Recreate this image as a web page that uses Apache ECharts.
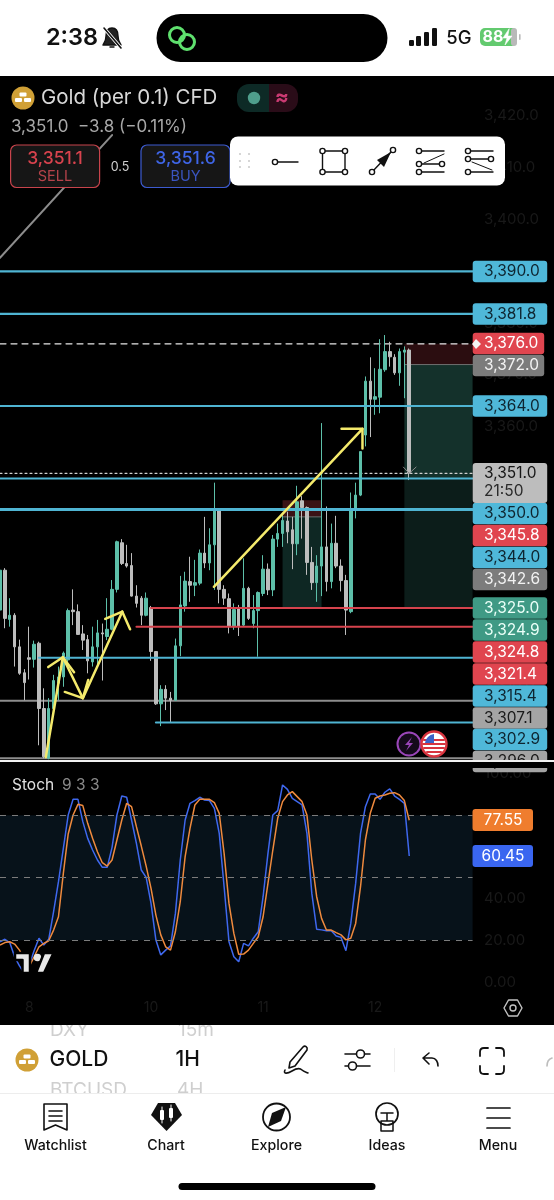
<!DOCTYPE html>
<html>
<head>
<meta charset="utf-8">
<title>Gold (per 0.1) CFD</title>
<style>
html,body{margin:0;padding:0;background:#fff}
#chart{width:554px;height:1200px}
</style>
<script src="https://cdn.jsdelivr.net/npm/echarts@6/dist/echarts.min.js"></script>
</head>
<body>
<div id="chart"></div>
<script>
// candles
var opens = [3324.6,3332.3,3322.8,3323.6,3317.5,3312.5,3315.4,3315.1,3318.2,3305.6,3296.0,3305.6,3310.5,3311.7,3315.0,3324.6,3324.3,3320.0,3318.9,3314.6,3317.5,3320.2,3319.5,3320.9,3328.6,3337.6,3333.6,3333.2,3327.3,3326.9,3323.6,3325.1,3316.6,3306.5,3309.3,3307.6,3307.2,3317.7,3325.4,3330.1,3329.4,3329.8,3335.6,3333.7,3337.2,3343.8,3328.6,3326.8,3321.4,3324.9,3321.7,3328.8,3322.0,3324.5,3327.8,3332.5,3328.5,3338.3,3339.4,3341.8,3340.1,3337.4,3345.7,3344.4,3333.8,3329.9,3333.1,3336.8,3330.1,3337.5,3333.1,3330.3,3324.3,3343.9,3346.8,3358.4,3368.8,3365.3,3365.7,3371.0,3374.5,3373.4,3370.4,3374.4,3374.8];
var closes = [3332.3,3323.0,3323.6,3317.5,3312.4,3310.6,3315.1,3318.0,3305.6,3296.3,3305.6,3311.0,3311.7,3316.3,3324.5,3324.3,3319.9,3318.8,3314.8,3317.5,3320.2,3320.0,3320.9,3328.6,3337.8,3333.6,3333.1,3327.3,3325.9,3323.6,3326.9,3316.6,3306.5,3309.3,3307.6,3307.2,3317.7,3325.6,3330.2,3329.4,3329.9,3335.6,3333.7,3337.2,3343.8,3328.6,3326.9,3321.5,3324.7,3321.5,3328.8,3323.0,3324.5,3328.0,3332.5,3328.5,3338.3,3339.4,3341.9,3339.7,3337.4,3345.5,3344.4,3333.8,3329.9,3333.1,3336.8,3330.1,3337.5,3333.1,3330.3,3324.6,3343.9,3346.8,3355.2,3368.8,3365.3,3365.8,3371.1,3374.5,3373.5,3370.4,3374.5,3374.8,3351.0];
var lows = [3323.3,3321.1,3321.4,3313.7,3312.1,3307.2,3311.2,3313.5,3298.5,3296.0,3295.8,3305.3,3307.2,3309.8,3314.6,3321.7,3319.8,3316.9,3312.4,3313.7,3313.7,3311.0,3318.8,3320.7,3328.0,3333.3,3332.8,3327.2,3325.1,3321.7,3323.4,3314.8,3306.3,3302.2,3305.3,3303.0,3307.1,3315.7,3324.3,3326.2,3327.3,3329.4,3332.7,3332.3,3328.5,3325.9,3325.6,3320.1,3320.8,3319.6,3321.4,3322.7,3321.1,3315.6,3327.3,3327.5,3327.3,3336.8,3336.8,3337.5,3332.5,3335.2,3338.4,3331.4,3328.5,3326.2,3327.3,3328.2,3328.8,3332.7,3328.2,3319.8,3324.0,3342.3,3346.6,3356.2,3358.0,3362.3,3362.6,3370.6,3371.6,3370.0,3367.9,3365.5,3349.7];
var highs = [3336.8,3332.7,3326.9,3324.0,3318.9,3313.2,3321.4,3318.7,3318.5,3309.5,3307.6,3312.1,3313.7,3316.6,3324.9,3328.6,3325.7,3321.7,3319.8,3321.4,3322.7,3322.0,3326.9,3330.4,3338.0,3338.3,3337.2,3335.6,3329.4,3327.3,3328.0,3325.4,3316.7,3310.1,3310.1,3308.8,3319.1,3331.2,3332.0,3334.9,3334.3,3336.3,3342.6,3340.4,3349.2,3343.9,3329.4,3327.8,3325.9,3325.6,3334.6,3329.1,3327.5,3328.2,3335.2,3333.6,3339.1,3341.3,3343.4,3343.6,3342.6,3348.6,3346.6,3344.6,3336.8,3335.2,3360.7,3344.6,3341.3,3342.8,3334.4,3331.4,3347.3,3349.2,3355.3,3369.7,3373.4,3371.3,3376.9,3377.7,3376.4,3374.0,3375.1,3375.5,3375.1];

// stochastic
var stochK = [19.3,20.5,18.9,12.1,7.7,4.2,8.2,15.0,21.0,17.7,20.5,33.7,48.1,64.1,80.1,87.6,87.6,76.9,68.9,63.3,58.5,55.0,55.0,64.6,80.1,89.2,88.6,77.7,66.5,53.7,50.2,37.7,20.1,13.0,15.3,17.3,32.9,58.5,77.7,85.7,87.0,88.6,87.3,87.0,83.3,71.3,45.7,19.3,12.1,9.7,18.5,17.3,21.0,24.1,40.9,61.7,80.1,82.2,94.5,92.4,88.1,86.5,84.9,71.3,42.5,25.3,25.0,24.6,24.6,22.1,21.4,15.0,28.1,47.3,71.3,84.1,90.2,90.2,87.6,91.0,92.6,89.2,87.6,85.7,60.45];
var stochD = [17.7,18.9,19.3,18.2,15.3,10.5,7.4,12.1,16.9,18.5,19.8,24.9,31.3,52.1,71.0,80.1,85.2,84.6,76.1,68.9,62.5,57.2,55.6,58.5,68.1,77.7,85.7,84.1,74.5,65.2,55.6,44.9,32.1,22.6,16.9,15.3,24.1,38.5,60.1,73.7,84.9,87.6,87.6,87.6,86.0,80.9,61.7,37.7,23.3,13.3,13.4,15.3,18.5,21.7,31.3,47.3,63.3,78.5,86.5,89.7,91.3,88.9,86.5,80.1,58.5,40.9,30.5,24.9,24.9,23.7,22.6,20.2,21.0,28.1,45.7,68.1,80.9,88.1,89.2,89.7,90.5,90.8,89.7,87.0,77.55];

// axes
var priceTicks = [3420,3410,3400,3390,3380,3370,3360,3350,3340,3330,3320,3310,3300];
var stochTicks = [0,20,40,60,80,100];
var dayLabels = ['8','10','11','12'];
var dayBars = [6,31,54,77];
var slotCount = 98;

// horizontal levels drawn on the chart
var cyanPrices = [3390,3381.8,3364,3350,3344,3315.4,3302.9];
var cyanStarts = [0,0,0,0,0,8,32];
var redPrices = [3325,3321.4];
var redStarts = [31,28];
var grayPrices = [3307.1,3296];
var lastPrice = 3351;
var stopPrice = 3376;

// hand drawn arrows, [bar, price]
var arrowUp1 = [[9.4,3296.2],[12.9,3315.5]];
var arrowUp1Head = [[9.9,3313.6],[12.9,3315.5],[15.2,3312.6]];
var arrowDown = [[12.9,3315.5],[17,3307.6]];
var arrowDownHead = [[13.3,3308.8],[17,3307.6],[18.1,3311.1]];
var arrowUp2 = [[17,3307.6],[25.1,3324.3]];
var arrowUp2Head = [[21.6,3322.9],[25.1,3324.3],[26.7,3320.9]];
var arrowUp3 = [[43.9,3329.1],[74.4,3359.6]];
var arrowUp3Head = [[70.1,3359.6],[74.4,3359.6],[74.4,3355.8]];
var trendLine = [[0,3392.6],[23,3416.3]];
var lastArrow = [[82.8,3352.2],[84,3351],[85.4,3352.2]];

// price tags on the right
var tagLabels = ['3,390.0','3,381.8','3,376.0','3,372.0','3,364.0','3,350.0','3,345.8','3,344.0','3,342.6','3,325.0','3,324.9','3,324.8','3,321.4','3,315.4','3,307.1','3,302.9','3,296.0'];
var tagKinds = ['c','c','r','g','c','c','r','c','g','t','t','r','r','c','l','c','l'];

var FONT = 'Inter';
var categories = [], candles = [];
for (var i = 0; i < slotCount; i++) {
	var at = dayBars.indexOf(i);
	categories.push(at >= 0 ? dayLabels[at] : 'b' + i);
}
for (var i = 0; i < opens.length; i++) {
	candles.push([opens[i], closes[i], lows[i], highs[i]]);
}

function money(v){
	return v.toFixed(1).replace(/\B(?=(\d{3})(?!\d))/, ',');
}
function drawing(points, color, width, z, dash){
	return {
		type: 'line', xAxisIndex: 2, yAxisIndex: 0, data: points, silent: true,
		symbol: 'none', animation: false, z: z || 5,
		lineStyle: {color: color, width: width, type: dash || 'solid', cap: 'round', join: 'round'}
	};
}
function box(x1, x2, top, bottom, color){
	return [{coord: [x1, top], itemStyle: {color: color}}, {coord: [x2, bottom]}];
}

var series = [];
// position boxes
series.push({
	type: 'line', xAxisIndex: 2, yAxisIndex: 0, data: [[83, 3376]], silent: true, symbol: 'none',
	animation: false, z: 1, lineStyle: {width: 0},
	markArea: {
		silent: true, animation: false,
		data: [
			box(83, 97, 3376, 3372, '#2b0d10'),
			box(83, 97, 3372, 3350, '#14312b'),
			box(83, 97, 3350, 3325, '#0c1d1a'),
			box(58, 66, 3345.8, 3342.6, '#3a1215'),
			box(58, 66, 3342.6, 3325, '#0e2723')
		]
	}
});
series.push(drawing([[83,3372],[97,3372]], '#6f6f6f', 1, 2));
series.push(drawing([[58,3342.6],[66,3342.6]], '#6f6f6f', 1, 2));
series.push(drawing(trendLine, '#8c8c8c', 2, 2));
series.push(drawing([[0,stopPrice],[97,stopPrice]], '#e8e8e8', 1.2, 2, [6,5]));
series.push(drawing([[0,lastPrice],[97,lastPrice]], '#cfcfcf', 1.2, 2, [2,3]));

for (var i = 0; i < grayPrices.length; i++) {
	series.push(drawing([[0,grayPrices[i]],[97,grayPrices[i]]], '#8d8d8d', 2, 3));
}
// candles
series.push({
	type: 'candlestick', xAxisIndex: 0, yAxisIndex: 0, data: candles, barWidth: 3, silent: true,
	animation: false, z: 4,
	itemStyle: {color: '#5dbfa9', color0: '#bdbdbd', borderColor: '#5dbfa9', borderColor0: '#bdbdbd', borderWidth: 1}
});
for (var i = 0; i < cyanPrices.length; i++) {
	var w = cyanPrices[i] == 3344 ? 3 : (cyanPrices[i] == 3350 || cyanPrices[i] > 3360 ? 2.2 : 2);
	series.push(drawing([[cyanStarts[i],cyanPrices[i]],[97,cyanPrices[i]]], '#4fb4d2', w, 5));
}
for (var i = 0; i < redPrices.length; i++) {
	series.push(drawing([[redStarts[i],redPrices[i]],[97,redPrices[i]]], '#d6434d', 2, 5));
}
// yellow arrows
var arrows = [arrowUp1, arrowUp1Head, arrowDown, arrowDownHead, arrowUp2, arrowUp2Head, arrowUp3, arrowUp3Head];
for (var i = 0; i < arrows.length; i++) {
	series.push(drawing(arrows[i], '#f4ea6c', 2.5, 6));
}
series.push(drawing(lastArrow, '#8a8a8a', 1, 6));

// stoch panel
series.push({
	type: 'line', xAxisIndex: 1, yAxisIndex: 1, data: stochK, silent: true, symbol: 'none',
	animation: false, z: 3, lineStyle: {color: '#3f68ee', width: 1.5},
	markArea: {
		silent: true, animation: false,
		data: [[{coord: [0, 80], itemStyle: {color: '#07121a'}}, {coord: [97, 20]}]]
	},
	markLine: {
		silent: true, animation: false, symbol: 'none',
		lineStyle: {color: '#7c7c7c', width: 1, type: [6, 6]},
		label: {show: false},
		data: [
			[{coord: [0, 80]}, {coord: [97, 80]}],
			[{coord: [0, 50]}, {coord: [97, 50]}],
			[{coord: [0, 20]}, {coord: [97, 20]}]
		]
	}
});
series.push({
	type: 'line', xAxisIndex: 1, yAxisIndex: 1, data: stochD, silent: true, symbol: 'none',
	animation: false, z: 4, lineStyle: {color: '#ef8a3e', width: 1.5}
});

// everything around the chart is plain shapes and text
var gfx = [], zNext = 100, pathCount = 0;
function rect(x, y, w, h, fill, r, stroke){
	gfx.push({type: 'rect', z: zNext++, silent: true, shape: {x: x, y: y, width: w, height: h, r: r || 0},
		style: {fill: fill, stroke: stroke || null, lineWidth: stroke ? 1.2 : 0}});
}
function circle(x, y, r, fill, stroke, lw){
	gfx.push({type: 'circle', z: zNext++, silent: true, shape: {cx: x, cy: y, r: r},
		style: {fill: fill || 'none', stroke: stroke || null, lineWidth: lw || 0}});
}
// the graphic component has no svg path type, so each icon path gets registered as a shape
function path(d, stroke, lw, fill){
	var name = 'iconPath' + (pathCount++);
	echarts.graphic.registerShape(name, echarts.graphic.extendPath(d, {}));
	gfx.push({type: name, z: zNext++, silent: true,
		style: {fill: fill || 'none', stroke: stroke || null, lineWidth: lw || 0, lineCap: 'round', lineJoin: 'round'}});
}
function txt(x, y, s, fill, size, weight, align){
	gfx.push({type: 'text', z: zNext++, silent: true,
		style: {x: x, y: y, text: s, fill: fill, fontSize: size, fontWeight: weight || 400, fontFamily: FONT,
			textAlign: align || 'left', textVerticalAlign: 'middle'}});
}
function coin(x, y){
	circle(x, y, 11.5, '#d0a036');
	rect(x - 3.5, y - 5.5, 7, 4, '#fff', 1);
	rect(x - 8, y, 7, 4, '#fff', 1);
	rect(x + 1, y, 7, 4, '#fff', 1);
}
function nodeDot(x, y){
	circle(x, y, 2.6, '#fff', '#111', 1.4);
}

// price tags
var tagFill = {c: '#4fb8d9', r: '#e0454f', g: '#7c7c7c', l: '#a4a4a4', t: '#3f9a85'};
var tagInk = {c: '#0e2530', r: '#fff', g: '#f2f2f2', l: '#1a1a1a', t: '#eafff8'};
var tagCentres = [271.5,314,343.5,365.5,406,513.5,535.5,557.5,579.5,608,630,652,674,696,718,739.5,761.5];
for (var i = 0; i < tagLabels.length; i++) {
	var k = tagKinds[i];
	var wide = (k == 'r' || k == 'g') && i < 4 ? 71.5 : 74.5;
	rect(472.7, tagCentres[i] - 10.7, wide, 21.4, tagFill[k], 3);
	txt(484, tagCentres[i], tagLabels[i], tagInk[k], 15.5);
}
path('M472 344 L476 339 L481 344 L476 349 Z', null, 0, '#f4f4f4');
rect(472.7, 463, 74.5, 40, '#bdbdbd', 3);
txt(484, 473, money(lastPrice), '#161616', 15.5);
txt(484, 491, '21:50', '#2a2a2a', 15.5);

// event icons
circle(409, 744, 11.5, '#140a1a', '#9a46b8', 2);
path('M412 737 L405 745 L409 745 L406 751 L413 743 L409 743 Z', null, 0, '#9a46b8');
circle(434, 744, 12.5, '#fff', '#d8343f', 2.4);
path('M424 740 L444 740 M423 744 L445 744 M424 748 L444 748 M427 752 L441 752', '#d8343f', 2);
path('M425 743 A 11 11 0 0 1 434 734 L434 743 Z', null, 0, '#3b63c8');

// stoch text and tags
txt(12, 785, 'Stoch', '#e0e0e0', 15.5);
txt(62, 785, '9 3 3', '#8a8a8a', 15.5);
rect(472.5, 809, 60.5, 22, '#ef7d2e', 3);
txt(503, 820, stochD[stochD.length - 1].toFixed(2), '#fff', 15.5, 400, 'center');
rect(472.5, 845, 60.5, 22, '#3a66f0', 3);
txt(503, 856, stochK[stochK.length - 1].toFixed(2), '#fff', 15.5, 400, 'center');
// logo
path('M15 953 H30 V973 H22.5 V960 H15 Z', '#000', 2.5, '#e8e8e8');
circle(37.5, 957.5, 3.8, '#e8e8e8');
path('M44 953 H53.5 L44 973 H36 Z', '#000', 2.5, '#e8e8e8');
// settings hexagon
path('M504 1008 L508.5 1000 L517.5 1000 L522 1008 L517.5 1016 L508.5 1016 Z', '#c4c4c4', 1.4);
circle(513, 1008, 3, 'none', '#c4c4c4', 1.4);

// separators
rect(0, 760, 554, 2, '#f2f2f2');
rect(0, 762, 554, 6, '#000');

// header
rect(0, 0, 554, 76, '#fff');
txt(72, 38, '2:38', '#111', 23.5, 600, 'center');
path('M112 28 C107 28 106 32 106 36 C106 41 104 43 103 45 H121 C120 43 118 41 118 36 C118 32 117 28 112 28 Z M110 47 H114', '#111', 1.4, '#222');
path('M104 28 L121 48', '#fff', 3.4);
path('M104 28 L121 48', '#111', 1.6);
rect(156.5, 14, 231, 48, '#000', 24);
circle(177, 35, 7.5, 'none', '#5fe06e', 3);
circle(187, 42, 7.5, 'none', '#5fe06e', 3);
rect(409, 40, 5, 6, '#111', 1.2);
rect(416, 36, 5, 10, '#111', 1.2);
rect(424, 32, 5, 14, '#111', 1.2);
rect(432, 28, 5, 18, '#111', 1.2);
txt(459, 38, '5G', '#111', 18.5, 500, 'center');
rect(480, 28, 37, 18, '#63ca6f', 5);
rect(511, 28, 6, 18, '#b9b9b9', 3);
txt(493, 37.5, '88', '#fff', 16, 700, 'center');
path('M509 29 L503 38 L507 38 L505 45 L512 36 L508 36 Z', '#fff', 0.6, '#fff');
rect(519, 34, 1.6, 6, '#b9b9b9', 1);

// symbol row on the chart
coin(23, 98);
txt(41, 98, 'Gold (per 0.1) CFD', '#d8d8d8', 20.5);
rect(237, 84, 32, 28, '#0d2a26', 12);
rect(255, 84, 14, 28, '#0d2a26');
rect(269, 84, 29, 28, '#2a0c18', 12);
rect(269, 84, 14, 28, '#2a0c18');
circle(254, 98, 6.2, '#4f9e8c');
txt(282, 98, '≈', '#c93a72', 21, 700, 'center');
txt(11, 127, '3,351.0  \u22123.8 (\u22120.11%)', '#a8a8a8', 17);
rect(10.6, 145, 89, 42.5, '#161616', 6, '#c8444c');
txt(55, 159, '3,351.1', '#d9434e', 17.5, 500, 'center');
txt(55, 177, 'SELL', '#b5434a', 14.5, 400, 'center');
txt(120, 167, '0.5', '#cfcfcf', 12.5, 400, 'center');
rect(141, 145, 89, 42.5, '#161616', 6, '#3d5bd0');
txt(185.5, 159, '3,351.6', '#3f66e8', 17.5, 500, 'center');
txt(185.5, 177, 'BUY', '#3a55c0', 14.5, 400, 'center');

// drawing toolbar
rect(230, 136.5, 275, 49, '#fff', 8);
var dotX = [240, 249], dotY = [154, 161, 167];
for (var a = 0; a < 2; a++) for (var b = 0; b < 3; b++) circle(dotX[a], dotY[b], 1, '#c9c9c9');
path('M277 162 H298', '#111', 1.4);
nodeDot(275, 162);
path('M322.5 151 H345 V172 H322.5 Z', '#111', 1.4);
nodeDot(322.5, 151); nodeDot(345, 151); nodeDot(322.5, 172); nodeDot(345, 172);
path('M372 172 L391 152', '#111', 1.4);
path('M391 152 L377 160 L384 167 Z', null, 0, '#111');
nodeDot(372, 172); nodeDot(393, 150);
path('M419 151 H444 M419 164 H442 M419 172 H444', '#111', 1.4);
path('M424 163 L444 154', '#111', 1, 'none');
nodeDot(419, 151); nodeDot(419, 164); nodeDot(442, 164); nodeDot(419, 172);
path('M468 151 H493 M468 159 H491 M468 172 H493', '#111', 1.4);
path('M472 162 L492 170', '#111', 1, 'none');
nodeDot(468, 159); nodeDot(468, 151); nodeDot(491, 159); nodeDot(468, 172);

// bottom bar
rect(0, 1025, 554, 175, '#fff');
txt(50, 1030, 'DXY', '#cfcfcf', 19);
txt(178, 1030, '15m', '#cfcfcf', 19);
txt(50, 1090, 'BTCUSD', '#cfcfcf', 19);
txt(177, 1090, '4H', '#cfcfcf', 19);
rect(0, 1018, 554, 7, '#000');
rect(0, 1093, 554, 107, '#fff');
rect(0, 1093, 554, 1, '#ededed');
coin(27, 1060);
txt(49.5, 1060, 'GOLD', '#111', 21, 500);
txt(175.5, 1060, '1H', '#111', 21, 500);
// pen
path('M290 1062 L303 1047 C305 1045 308 1047 307 1050 L295 1066 L289 1068 Z M285 1070 C283 1074 287 1074 292 1071 C297 1068 300 1068 302 1070 C304 1072 306 1072 308 1073', '#111', 1.6);
// sliders
path('M345 1054 H356 M365 1054 H370 M345 1066 H348 M357 1066 H370', '#111', 1.6);
circle(360.5, 1054, 4, 'none', '#111', 1.6);
circle(352.5, 1066, 4, 'none', '#111', 1.6);
rect(394, 1048, 1, 24, '#efefef');
// undo
path('M423 1058 L429 1053 M423 1058 L429 1064 M423 1058 H432 C436 1058 438 1062 438 1066', '#111', 1.6);
// full screen
path('M480 1056 V1052 C480 1050 481 1048 484 1048 H488 M496 1048 H500 C503 1048 504 1050 504 1052 V1056 M504 1066 V1070 C504 1072 503 1074 500 1074 H496 M488 1074 H484 C481 1074 480 1072 480 1070 V1066', '#111', 1.8);
path('M547 1066 C547 1061 549 1059 552 1058', '#bdbdbd', 1.6);

// tab bar
path('M44 1104 H67 V1130 L55.5 1125 L44 1130 Z M49 1111 H62 M49 1116 H62 M49 1121 H62', '#111', 1.6);
path('M158 1103 H175 L182 1115 L166.5 1131 L151 1115 Z', null, 0, '#111');
rect(160, 1110, 4, 10, '#fff', 1);
rect(169, 1108, 4, 10, '#fff', 1);
path('M162 1107 V1123 M171 1105 V1121', '#fff', 1);
circle(276.5, 1117, 13.5, 'none', '#111', 1.8);
path('M286 1107 L281 1121 L268 1127 L272 1113 Z', null, 0, '#111');
circle(387, 1114, 11, 'none', '#111', 1.7);
path('M381 1121 H393 V1131 H381 Z M381 1113 H393 M387 1113 V1121', '#111', 1.5);
path('M487 1108 H510 M487 1118 H510 M487 1128 H510', '#111', 1.7);
txt(55.5, 1146, 'Watchlist', '#111', 14.2, 500, 'center');
txt(166, 1146, 'Chart', '#111', 14.2, 500, 'center');
txt(276.5, 1146, 'Explore', '#111', 14.2, 500, 'center');
txt(387, 1146, 'Ideas', '#111', 14.2, 500, 'center');
txt(498, 1146, 'Menu', '#111', 14.2, 500, 'center');
rect(178.5, 1183, 197, 7, '#000', 3.5);

var mychart = echarts.init(document.getElementById('chart'));
var hiddenAxis = {show: false};
var option = {
	animation: false,
	backgroundColor: '#000',
	textStyle: {fontFamily: FONT},
	grid: [
		{left: -2.436, width: 477.456, top: 78, height: 682, outerBoundsMode: 'none'},
		{left: -2.436, width: 477.456, top: 762, height: 236, outerBoundsMode: 'none'}
	],
	xAxis: [
		{type: 'category', gridIndex: 0, data: categories, axisLine: hiddenAxis, axisTick: hiddenAxis, axisLabel: hiddenAxis, splitLine: hiddenAxis},
		{
			type: 'category', gridIndex: 1, data: categories, axisLine: hiddenAxis, axisTick: hiddenAxis, splitLine: hiddenAxis,
			axisLabel: {
				interval: 0, margin: 3, color: '#191919', fontSize: 14, hideOverlap: false,
				formatter: function(v){ return dayLabels.indexOf(v) >= 0 ? v : ''; }
			}
		},
		{type: 'value', gridIndex: 0, min: -0.5, max: 97.5, show: false}
	],
	yAxis: [
		{
			type: 'value', gridIndex: 0, position: 'right', min: 3295.66, max: 3427.32, scale: true,
			axisLine: hiddenAxis, axisTick: hiddenAxis, splitLine: hiddenAxis,
			axisLabel: {
				customValues: priceTicks, margin: 9, color: '#191919', fontSize: 15,
				formatter: function(v){ return money(v); }
			}
		},
		{
			type: 'value', gridIndex: 1, position: 'right', min: -7.67, max: 105.51,
			axisLine: hiddenAxis, axisTick: hiddenAxis, splitLine: hiddenAxis,
			axisLabel: {
				customValues: stochTicks, margin: 9, color: '#191919', fontSize: 15,
				formatter: function(v){ return v.toFixed(2); }
			}
		}
	],
	series: series,
	graphic: {elements: gfx}
};
mychart.setOption(option);
window.onresize = function(){ mychart.resize(); };
</script>
</body>
</html>
